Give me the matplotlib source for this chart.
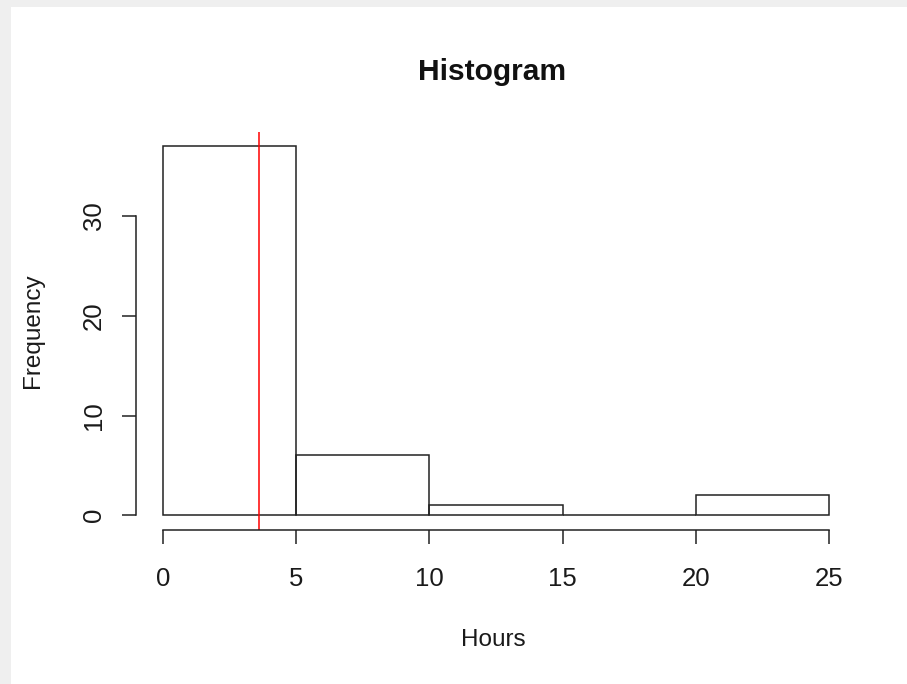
import matplotlib.pyplot as plt
from matplotlib.patches import Rectangle

plt.rcParams['font.family'] = ['Liberation Sans', 'DejaVu Sans']

# histogram counts per 5-hour bin
bin_edges = [0, 5, 10, 15, 20, 25]
counts = [37, 6, 1, 0, 2]
mean_hours = 3.6

W, H = 907, 684
fig = plt.figure(figsize=(W / 100, H / 100), dpi=100, facecolor='#efefef')
# white card with light grey shadow on top/left
fig.patches.append(Rectangle((11 / W, 0), 1, 1 - 7 / H, transform=fig.transFigure,
                             facecolor='white', edgecolor='none', zorder=-1))

# plot region in pixels: x 136.4..855.6, y 131.5..530
ax = fig.add_axes([136.4 / W, 1 - 530 / H, (855.6 - 136.4) / W, (530 - 131.5) / H])
ax.set_zorder(2)
ax.set_facecolor('none')

ax.bar(bin_edges[:-1], counts, width=5, align='edge', fill=False,
       edgecolor='#222222', linewidth=1.1)
ax.axvline(mean_hours, color='#ff0000', linewidth=1.1)

ax.set_xlim(-1, 26)
ax.set_ylim(-1.48, 38.48)

for s in ['top', 'right']:
    ax.spines[s].set_visible(False)
ax.spines['left'].set_bounds(0, 30)
ax.spines['bottom'].set_bounds(0, 25)
for s in ['left', 'bottom']:
    ax.spines[s].set_linewidth(1.1)
    ax.spines[s].set_color('#222222')

ax.set_xticks([0, 5, 10, 15, 20, 25])
ax.set_yticks([0, 10, 20, 30])
ax.tick_params(axis='both', length=10, width=1.1, color='#222222', labelsize=18.5,
               labelcolor='#1a1a1a')
ax.tick_params(axis='x', pad=16.5)
ax.tick_params(axis='y', pad=12)
for lab in ax.get_yticklabels():
    lab.set_rotation(90)
    lab.set_va('center')

fig.text(492 / W, 1 - 72 / H, 'Histogram', ha='center', va='center',
         fontsize=21.6, fontweight='bold', color='#111111')
fig.text(493 / W, 1 - 640 / H, 'Hours', ha='center', va='center',
         fontsize=17.5, color='#1a1a1a')
fig.text(33 / W, 1 - 331 / H, 'Frequency', ha='center', va='center',
         rotation=90, fontsize=17.5, color='#1a1a1a')

fig.savefig('out.png', dpi=100, facecolor=fig.get_facecolor())
